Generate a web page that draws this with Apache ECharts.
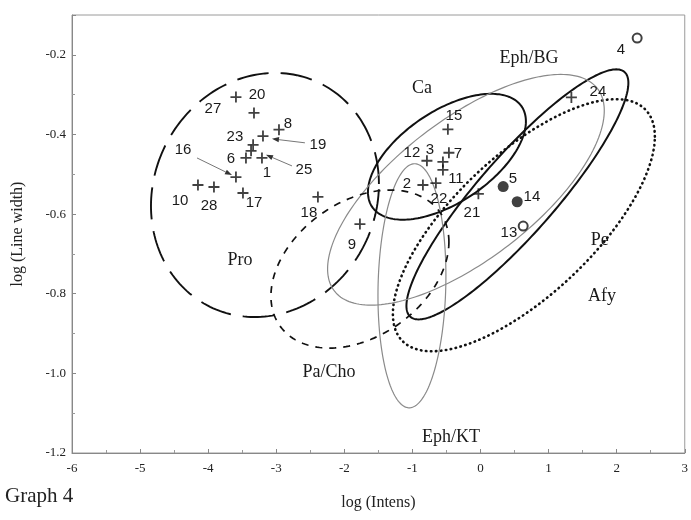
<!DOCTYPE html>
<html><head><meta charset="utf-8">
<script src="https://cdn.jsdelivr.net/npm/echarts@6/dist/echarts.min.js"></script>
<style>html,body{margin:0;padding:0;background:#fff}#c{width:691px;height:520px}</style>
</head><body><div id="c"></div>
<script>
// ---- data (data units) ----
const xTickValues = [-6,-5,-4,-3,-2,-1,0,1,2,3];
const yTickValues = [-1.2,-1.0,-0.8,-0.6,-0.4,-0.2];

// "+" markers
const crossPoints = [
  [-3.592,-0.306],[-3.327,-0.346],[-3.195,-0.404],[-2.960,-0.388],[-3.340,-0.426],
  [-3.370,-0.441],[-3.445,-0.459],[-3.210,-0.459],[-3.592,-0.507],[-3.489,-0.547],
  [-4.150,-0.527],[-3.915,-0.532],[-2.388,-0.557],[-1.771,-0.625],
  [-0.479,-0.387],[-0.787,-0.466],[-0.552,-0.469],[-0.464,-0.446],[-0.552,-0.489],
  [-0.655,-0.522],[-0.846,-0.527],[-0.031,-0.549],[1.335,-0.307]
];
// filled circles (5, 14)
const filledPoints = [[0.333,-0.531],[0.539,-0.569]];
// open circles (13, 4)
const openPoints = [[0.627,-0.630],[2.301,-0.158]];

// point number labels and where they sit
const pointLabelText = ['20','27','23','8','19','16','6','1','25','10','28','17','18','9',
  '15','12','3','7','11','2','22','21','5','14','13','24','4'];
const pointLabelPos = [
  [-3.283,-0.300],[-3.930,-0.336],[-3.607,-0.406],[-2.828,-0.373],[-2.388,-0.426],
  [-4.370,-0.439],[-3.665,-0.461],[-3.137,-0.496],[-2.593,-0.489],[-4.414,-0.567],
  [-3.988,-0.579],[-3.327,-0.572],[-2.520,-0.597],[-1.888,-0.677],
  [-0.391,-0.353],[-1.007,-0.446],[-0.743,-0.439],[-0.332,-0.449],[-0.361,-0.512],
  [-1.081,-0.524],[-0.611,-0.562],[-0.126,-0.597],[0.476,-0.512],[0.755,-0.557],
  [0.417,-0.647],[1.724,-0.293],[2.062,-0.187]
];
// leader arrows: [fromX, fromY, toX, toY]
const arrowSegments = [
  [-4.164,-0.459,-3.650,-0.502],
  [-2.579,-0.421,-3.063,-0.411],
  [-2.769,-0.479,-3.151,-0.451]
];

// group ellipses: [centreX, centreY, halfWidthX, halfHeightY, skew]
const ellipseNames = ['Pro','Ca','Pe','Afy','Eph/BG','Eph/KT','Pa/Cho'];
const ellipseParams = [
  [-3.166,-0.552,1.674,0.3065,0.09],
  [-0.493,-0.456,1.160,0.158,0.595],
  [0.542,-0.5505,1.630,0.314,1.10],
  [0.637,-0.628,1.924,0.3166,0.78],
  [-0.214,-0.539,2.032,0.2897,0.756],
  [-1.007,-0.780,0.499,0.3065,0.08],
  [-1.771,-0.738,1.307,0.1985,0.35]
];
const ellipseLabelPos = [
  [-3.533,-0.715],[-0.860,-0.285],[1.753,-0.665],[1.783,-0.806],
  [0.711,-0.2075],[-0.435,-1.160],[-2.226,-0.9965]
];

// ---- styles ----
const SERIF = '"Liberation Serif","Times New Roman",serif';
const SANS = '"Liberation Sans",Arial,sans-serif';
const ellipseStyles = {
  'Pro':    {stroke:'#111', lineWidth:1.9, lineDash:[32,12]},
  'Ca':     {stroke:'#111', lineWidth:2},
  'Pe':     {stroke:'#111', lineWidth:2},
  'Afy':    {stroke:'#111', lineWidth:2.6, lineDash:[0.5,4.5], lineCap:'round'},
  'Eph/BG': {stroke:'#8a8a8a', lineWidth:1.2},
  'Eph/KT': {stroke:'#8a8a8a', lineWidth:1.2},
  'Pa/Cho': {stroke:'#111', lineWidth:1.7, lineDash:[7,7]}
};

const series = [];
ellipseNames.forEach((nm, i) => {
  const st = ellipseStyles[nm];
  series.push({
    type:'custom', name:nm, data:[ellipseParams[i]], encode:{x:0,y:1}, z:2, silent:true,
    renderItem:(params, api) => {
      const cx=api.value(0), cy=api.value(1), hx=api.value(2), hy=api.value(3), sk=api.value(4);
      const pts=[];
      for (let k=0;k<=200;k++){ const t=k/200*2*Math.PI; pts.push(api.coord([cx+hx*Math.cos(t), cy+hy*Math.sin(t+sk)])); }
      return {type:'polyline', shape:{points:pts}, style:Object.assign({fill:null}, st)};
    }
  });
});

series.push({
  type:'custom', name:'arrows', data:arrowSegments, encode:{x:[0,2],y:[1,3]}, z:3, silent:true,
  renderItem:(params, api) => {
    const a=api.coord([api.value(0),api.value(1)]), b=api.coord([api.value(2),api.value(3)]);
    const ang=Math.atan2(b[1]-a[1], b[0]-a[0]), L=7, W=2.6;
    const bx=b[0]-L*Math.cos(ang), by=b[1]-L*Math.sin(ang);
    return {type:'group', children:[
      {type:'line', shape:{x1:a[0],y1:a[1],x2:bx,y2:by}, style:{stroke:'#777', lineWidth:1}},
      {type:'polygon', shape:{points:[b,[bx+W*Math.sin(ang),by-W*Math.cos(ang)],[bx-W*Math.sin(ang),by+W*Math.cos(ang)]]}, style:{fill:'#333'}}
    ]};
  }
});

series.push({
  type:'scatter', name:'cross', data:crossPoints, z:5, silent:true,
  symbol:'path://M4.6,0h1.8v11h-1.8z M0,4.6h11v1.8h-11z', symbolSize:11,
  itemStyle:{color:'#111'}
});
series.push({
  type:'scatter', name:'filled', data:filledPoints, z:5, silent:true,
  symbol:'circle', symbolSize:11, itemStyle:{color:'#111'}
});
series.push({
  type:'scatter', name:'open', data:openPoints, z:5, silent:true,
  symbol:'circle', symbolSize:9, itemStyle:{color:'#fff', borderColor:'#111', borderWidth:2}
});

series.push({
  type:'custom', name:'pointLabels', data:pointLabelPos, encode:{x:0,y:1}, z:6, silent:true,
  renderItem:(params, api) => {
    const p=api.coord([api.value(0),api.value(1)]);
    return {type:'text', x:p[0], y:p[1], style:{text:pointLabelText[params.dataIndex], font:'15px '+SANS, fill:'#1a1a1a', align:'center', verticalAlign:'middle'}};
  }
});
series.push({
  type:'custom', name:'groupLabels', data:ellipseLabelPos, encode:{x:0,y:1}, z:6, silent:true,
  renderItem:(params, api) => {
    const p=api.coord([api.value(0),api.value(1)]);
    return {type:'text', x:p[0], y:p[1], style:{text:ellipseNames[params.dataIndex], font:'18px '+SERIF, fill:'#1a1a1a', align:'center', verticalAlign:'middle'}};
  }
});

const chart = echarts.init(document.getElementById('c'));
chart.setOption({
  animation:false,
  backgroundColor:'#fff',
  grid:{left:72, right:6, top:15, bottom:67, show:true, borderColor:'#9a9a9a', borderWidth:1},
  xAxis:{
    type:'value', min:xTickValues[0], max:xTickValues[xTickValues.length-1], interval:1,
    axisLine:{show:true, onZero:false, lineStyle:{color:'#888', width:1}},
    axisTick:{show:true, inside:true, length:4, lineStyle:{color:'#888'}},
    minorTick:{show:true, splitNumber:2, length:3, lineStyle:{color:'#999'}},
    splitLine:{show:false},
    axisLabel:{fontFamily:SERIF, fontSize:13, color:'#222', margin:9},
    name:'log (Intens)', nameLocation:'middle', nameGap:42,
    nameTextStyle:{fontFamily:SERIF, fontSize:16, color:'#222'}
  },
  yAxis:{
    type:'value', min:yTickValues[0], max:-0.1, interval:0.2,
    axisLine:{show:true, onZero:false, lineStyle:{color:'#888', width:1}},
    axisTick:{show:true, inside:true, length:4, lineStyle:{color:'#888'}},
    minorTick:{show:true, splitNumber:2, length:3, lineStyle:{color:'#999'}},
    splitLine:{show:false},
    axisLabel:{fontFamily:SERIF, fontSize:13, color:'#222', margin:6, showMaxLabel:false,
      formatter:v => yTickValues.some(t => Math.abs(t-v)<1e-6) ? v.toFixed(1) : ''},
    name:'log (Line width)', nameLocation:'middle', nameGap:46, nameRotate:90,
    nameTextStyle:{fontFamily:SERIF, fontSize:16, color:'#222'}
  },
  graphic:[{type:'text', left:5, top:486, style:{text:'Graph 4', font:'21px '+SERIF, fill:'#222'}}],
  series:series
});
</script></body></html>
